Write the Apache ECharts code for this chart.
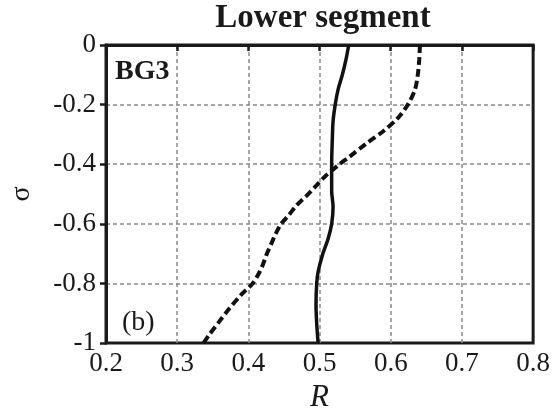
<!DOCTYPE html>
<html>
<head>
<meta charset="utf-8">
<script src="https://cdn.jsdelivr.net/npm/echarts@6/dist/echarts.min.js"></script>
<style>html,body{margin:0;padding:0;background:#fff}#c{width:553px;height:418px}</style>
</head>
<body>
<div id="c"></div>
<script>
const xTicks = [0.2, 0.3, 0.4, 0.5, 0.6, 0.7, 0.8];
const yTicks = [0, -0.2, -0.4, -0.6, -0.8, -1];
const sigmaSolid = [0, -0.05, -0.1, -0.15, -0.2, -0.255, -0.31, -0.4, -0.49, -0.543, -0.6, -0.65, -0.705, -0.76, -0.8, -0.87, -0.935, -1];
const rSolid = [0.541, 0.537, 0.532, 0.526, 0.522, 0.519, 0.518, 0.517, 0.517, 0.519, 0.517, 0.512, 0.504, 0.498, 0.496, 0.495, 0.496, 0.498];
const sigmaDashed = [0, -0.05, -0.1, -0.15, -0.2, -0.245, -0.29, -0.33, -0.375, -0.4, -0.44, -0.475, -0.505, -0.537, -0.57, -0.6, -0.635, -0.668, -0.7, -0.733, -0.765, -0.8, -0.84, -0.885, -0.928, -0.972, -1];
const rDashed = [0.641, 0.640, 0.638, 0.634, 0.624, 0.610, 0.589, 0.566, 0.542, 0.528, 0.508, 0.494, 0.482, 0.468, 0.457, 0.446, 0.438, 0.432, 0.426, 0.421, 0.415, 0.406, 0.389, 0.373, 0.359, 0.345, 0.337];

const font = "'Liberation Serif','Times New Roman',serif";
const chart = echarts.init(document.getElementById('c'), null, {renderer: 'canvas'});
const pair = (xs, ys) => xs.map((v, i) => [v, ys[i]]);
const gridLine = {show: true, showMinLine: false, showMaxLine: false, lineStyle: {color: '#8a8a8a', width: 1.5, type: [4, 3]}};
chart.setOption({
  animation: false,
  backgroundColor: '#fff',
  title: {
    text: 'Lower segment', left: 318, textAlign: 'center', top: -3,
    textStyle: {fontFamily: font, fontWeight: 'bold', fontSize: 33, color: '#1a1a1a'}
  },
  grid: {left: 104, right: 18, top: 45, bottom: 66, show: true, borderColor: '#1a1a1a', borderWidth: 3, backgroundColor: 'transparent'},
  xAxis: {
    type: 'value', min: xTicks[0], max: xTicks[xTicks.length - 1], interval: 0.1,
    name: 'R', nameLocation: 'middle', nameGap: 37,
    nameTextStyle: {fontFamily: font, fontStyle: 'italic', fontSize: 31, color: '#1a1a1a'},
    axisLine: {show: true, lineStyle: {color: '#1a1a1a', width: 3}},
    axisTick: {show: true, inside: false, length: 6, lineStyle: {color: '#1a1a1a', width: 2.5}},
    axisLabel: {fontFamily: font, fontSize: 27, color: '#1a1a1a', margin: 7},
    splitLine: gridLine
  },
  yAxis: {
    type: 'value', min: yTicks[yTicks.length - 1], max: yTicks[0], interval: 0.2,
    name: 'σ', nameLocation: 'middle', nameGap: 70,
    nameTextStyle: {fontFamily: font, fontSize: 28, color: '#1a1a1a'},
    axisLine: {show: true, lineStyle: {color: '#1a1a1a', width: 3}},
    axisTick: {show: true, inside: false, length: 6, lineStyle: {color: '#1a1a1a', width: 2.5}},
    axisLabel: {fontFamily: font, fontSize: 27, color: '#1a1a1a', margin: 10},
    splitLine: gridLine
  },
  graphic: [
    {type: 'text', left: 115, top: 58, style: {text: 'BG3', font: "bold 28px 'Liberation Serif'", fill: '#1a1a1a'}},
    {type: 'text', left: 122, top: 309, style: {text: '(b)', font: "28px 'Liberation Serif'", fill: '#1a1a1a'}}
  ],
  series: [
    {type: 'line', data: pair(rSolid, sigmaSolid), smooth: 0.3, showSymbol: false, symbol: 'none',
     lineStyle: {color: '#111', width: 3.5}, z: 5},
    {type: 'line', data: pair(rDashed, sigmaDashed), smooth: 0.3, showSymbol: false, symbol: 'none',
     lineStyle: {color: '#111', width: 4, type: [8, 4]}, z: 5}
  ]
});
</script>
</body>
</html>
